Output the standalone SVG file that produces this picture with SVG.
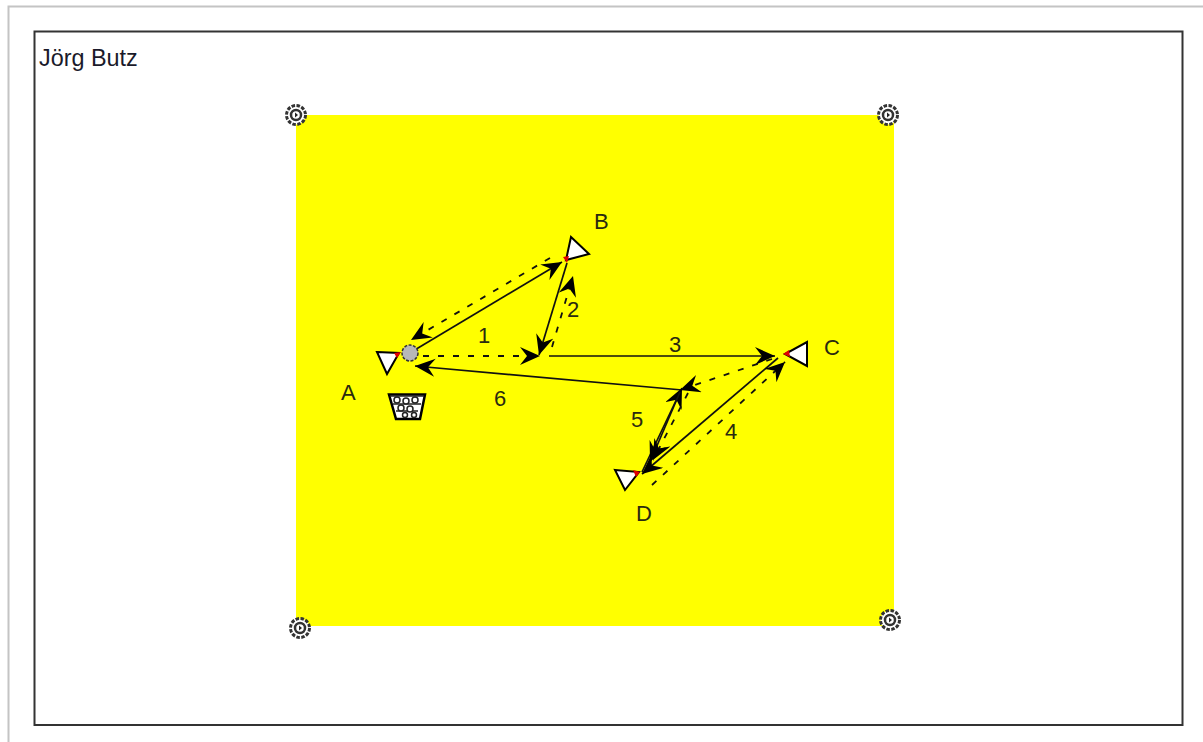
<svg xmlns="http://www.w3.org/2000/svg" width="1203" height="742" viewBox="0 0 1203 742">
<style>
text{font-family:"Liberation Sans",Arial,sans-serif;font-size:22px;fill:#2a2a10}
#author{font-size:23.400px;fill:#1a1a2a}
.cone{fill:#fff;stroke:#000;stroke-width:2;stroke-linejoin:miter}
.red{fill:#e00000;stroke:none}
.s{fill:none;stroke:#111;stroke-width:1.700;marker-end:url(#ah)}
.d{fill:none;stroke:#111;stroke-width:1.800;stroke-dasharray:6 9;marker-end:url(#ah)}
.t1{fill:#fff;stroke:#333;stroke-width:3;stroke-dasharray:3.500 1.500}
.t2{fill:none;stroke:#333;stroke-width:2.500}
</style>
<defs>
<marker id="ah" markerUnits="userSpaceOnUse" markerWidth="24" markerHeight="20" refX="20" refY="9" orient="auto">
<path d="M20 9 L0 0 L7 9 L0 18 Z" fill="#000"/>
</marker>
<g id="tgt"><circle r="9.500" class="t1"/><circle r="5" class="t2"/><path d="M-1 -2.500L2 0L-1 2.500Z" fill="#222"/></g>
</defs>
<rect width="1203" height="742" fill="#fff"/>
<path d="M8.500 742V6.500H1203" fill="none" stroke="#c4c4c4" stroke-width="2"/>
<rect x="34.500" y="31.500" width="1148" height="693.500" fill="#fff" stroke="#333" stroke-width="2"/>
<rect x="296" y="115" width="598" height="511" fill="#ffff00"/>
<text id="author" x="39" y="66">Jörg Butz</text>
<g id="marker-tl"><use href="#tgt" x="296" y="115"/></g>
<g id="marker-tr"><use href="#tgt" x="888" y="115"/></g>
<g id="marker-bl"><use href="#tgt" x="300" y="628"/></g>
<g id="marker-br"><use href="#tgt" x="890" y="620"/></g>
<g id="connectors">
<path class="s" d="M413 351L562 262"/>
<path class="d" d="M550 258L411 340"/>
<path class="d" d="M423 356L540 356"/>
<path class="s" d="M567 263L539 355"/>
<path class="d" d="M552 347L573 276"/>
<path class="s" d="M549 356L775 356"/>
<path class="d" d="M772 359L680 390"/>
<path class="s" d="M682 390L415 366"/>
<path class="s" d="M642 472L682 388"/>
<path class="s" d="M680 392L650 462"/>
<path class="d" d="M688 393L653 460"/>
<path class="s" d="M778 358L642 474"/>
<path class="d" d="M652 485L785 362"/>
</g>
<g id="player-a"><path class="cone" d="M377 352L399 353L387 374Z"/><path class="red" d="M394 353L401 352L397 358Z"/><text x="341" y="400">A</text></g>
<g id="ball"><circle cx="410" cy="353" r="8" fill="#b8b8b8" stroke="#333" stroke-width="1.500" stroke-dasharray="3 1.500"/></g>
<g id="basket"><path d="M389 394.500H425L420 419H396Z" fill="#fff" stroke="#000" stroke-width="2.500"/><path d="M390 396h34M393 404h28M396 411h22" stroke="#222" stroke-width="1.500" fill="none"/><g fill="#fff" stroke="#222" stroke-width="1.500"><circle cx="397" cy="400" r="3"/><circle cx="406" cy="401" r="3"/><circle cx="415" cy="400" r="3"/><circle cx="401" cy="408" r="3"/><circle cx="410" cy="409" r="3"/><circle cx="405" cy="415" r="2.500"/><circle cx="414" cy="415" r="2.500"/></g></g>
<g id="player-b"><path class="cone" d="M571 237L589 254L566 260Z"/><path class="red" d="M563 257L569 256L567 263Z"/><text x="594" y="229">B</text></g>
<g id="player-c"><path class="cone" d="M807 342V366L785 354Z"/><path class="red" d="M783 354L789 350L790 357Z"/><text x="824" y="355">C</text></g>
<g id="player-d"><path class="cone" d="M615 470L639 472L625 490Z"/><path class="red" d="M633 470L640 472L636 477Z"/><text x="636" y="521">D</text></g>
<g id="labels">
<text x="478" y="343">1</text><text x="567" y="317">2</text><text x="669" y="352">3</text><text x="725" y="439">4</text><text x="631" y="427">5</text><text x="494" y="406">6</text>
</g>
</svg>
